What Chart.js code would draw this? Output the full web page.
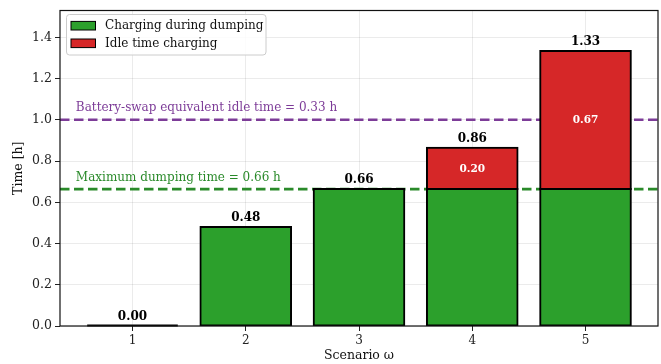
<!DOCTYPE html>
<html><head><meta charset="utf-8">
<script src="https://cdn.jsdelivr.net/npm/chart.js@4.4.0/dist/chart.umd.min.js"></script>
<style>html,body{margin:0;padding:0;background:#fff}#wrap{width:661px;height:364px;position:relative}</style>
</head><body><div id="wrap"><canvas id="c" width="661" height="364"></canvas></div>
<script>
const scenarios = [1, 2, 3, 4, 5];
const chargingDuringDumping = [0, 0.48, 0.664, 0.664, 0.664];
const idleTimeCharging = [0, 0, 0, 0.20, 0.67];
const yTicks = [0, 0.2, 0.4, 0.6, 0.8, 1.0, 1.2, 1.4];
const maxDumpingTime = 0.664;
const swapIdleLine = 1.0;
const seriesLabels = ['Charging during dumping', 'Idle time charging'];
const lineLabels = ['Maximum dumping time = 0.66 h', 'Battery-swap equivalent idle time = 0.33 h'];
const axisTitles = ['Scenario ω', 'Time [h]'];

const GREEN = '#2ca02c', RED = '#d62728';
const LINE_GREEN = '#2a8a2a', LINE_PURPLE = '#7d3c98';
const FONT = '"DejaVu Serif", serif';

const totals = scenarios.map((s, i) => chargingDuringDumping[i] + idleTimeCharging[i]);

const refLines = [
  {value: maxDumpingTime, color: LINE_GREEN, label: lineLabels[0]},
  {value: swapIdleLine, color: LINE_PURPLE, label: lineLabels[1]}
];

const drawPlugin = {
  id: 'drawPlugin',
  beforeDatasetsDraw(chart) {
    const {ctx, chartArea: a, scales: {y}} = chart;
    ctx.save();
    ctx.beginPath(); ctx.rect(a.left, a.top, a.right - a.left, a.bottom - a.top); ctx.clip();
    refLines.forEach(l => {
      const py = y.getPixelForValue(l.value);
      ctx.strokeStyle = l.color; ctx.lineWidth = 2.6; ctx.setLineDash([9.5, 4.5]);
      ctx.beginPath(); ctx.moveTo(a.left, py); ctx.lineTo(a.right, py); ctx.stroke();
    });
    ctx.restore();
  },
  afterDatasetsDraw(chart) {
    const {ctx, chartArea: a, scales: {x, y}} = chart;
    ctx.save();
    // zero-height bar outline
    scenarios.forEach((s, i) => {
      if (totals[i] === 0) {
        const half = (x.getPixelForValue(s + 0.4) - x.getPixelForValue(s - 0.4)) / 2;
        const px = x.getPixelForValue(s), py = y.getPixelForValue(0);
        ctx.strokeStyle = '#000'; ctx.lineWidth = 2;
        ctx.beginPath(); ctx.moveTo(px - half, py - 0.5); ctx.lineTo(px + half, py - 0.5); ctx.stroke();
      }
    });
    // reference line labels
    refLines.forEach(l => {
      const py = y.getPixelForValue(l.value);
      ctx.fillStyle = l.color; ctx.font = '12px ' + FONT;
      ctx.textAlign = 'left'; ctx.textBaseline = 'alphabetic';
      ctx.fillText(l.label, x.getPixelForValue(0.5), py - 8.5);
    });
    // totals above bars
    scenarios.forEach((s, i) => {
      const px = x.getPixelForValue(s);
      const py = y.getPixelForValue(totals[i]);
      ctx.fillStyle = '#000'; ctx.font = 'bold 12px ' + FONT;
      ctx.textAlign = 'center'; ctx.textBaseline = 'alphabetic';
      ctx.fillText(totals[i].toFixed(2), px, py - 6);
      if (idleTimeCharging[i] > 0) {
        const mid = y.getPixelForValue(chargingDuringDumping[i] + idleTimeCharging[i] / 2);
        ctx.fillStyle = '#fff'; ctx.font = 'bold 10.5px ' + FONT;
        ctx.textBaseline = 'middle';
        ctx.fillText(idleTimeCharging[i].toFixed(2), px, mid + 0.5);
      }
    });
    // frame
    ctx.strokeStyle = '#111'; ctx.lineWidth = 1.2; ctx.setLineDash([]);
    ctx.strokeRect(a.left, a.top, a.right - a.left, a.bottom - a.top);
    // axis titles
    ctx.fillStyle = '#111'; ctx.font = '12.5px ' + FONT;
    ctx.textAlign = 'center'; ctx.textBaseline = 'middle';
    ctx.fillText(axisTitles[0], (a.left + a.right) / 2, 356);
    ctx.save();
    ctx.translate(19, (a.top + a.bottom) / 2); ctx.rotate(-Math.PI / 2);
    ctx.fillText(axisTitles[1], 0, 0);
    ctx.restore();
    // legend
    const lx = 66.5, ly = 14.5, lw = 199.5, lh = 40.5, r = 3;
    ctx.beginPath();
    ctx.moveTo(lx + r, ly); ctx.lineTo(lx + lw - r, ly); ctx.arcTo(lx + lw, ly, lx + lw, ly + r, r);
    ctx.lineTo(lx + lw, ly + lh - r); ctx.arcTo(lx + lw, ly + lh, lx + lw - r, ly + lh, r);
    ctx.lineTo(lx + r, ly + lh); ctx.arcTo(lx, ly + lh, lx, ly + lh - r, r);
    ctx.lineTo(lx, ly + r); ctx.arcTo(lx, ly, lx + r, ly, r); ctx.closePath();
    ctx.fillStyle = 'rgba(255,255,255,0.85)'; ctx.fill();
    ctx.strokeStyle = '#cccccc'; ctx.lineWidth = 1; ctx.stroke();
    [[GREEN, seriesLabels[0], 25.7], [RED, seriesLabels[1], 43.3]].forEach(([c, t, cy]) => {
      ctx.fillStyle = c; ctx.fillRect(71, cy - 4.3, 24.5, 8.6);
      ctx.strokeStyle = '#000'; ctx.lineWidth = 1; ctx.strokeRect(71, cy - 4.3, 24.5, 8.6);
      ctx.fillStyle = '#111'; ctx.font = '12px ' + FONT; ctx.textAlign = 'left'; ctx.textBaseline = 'middle';
      ctx.fillText(t, 105, cy + 0.5);
    });
    ctx.restore();
  }
};

const gridOpts = {
  color: 'rgba(0,0,0,0.1)', lineWidth: 0.8, borderDash: [5, 3], offset: false,
  drawTicks: true, tickLength: 5, tickColor: '#222', tickWidth: 1, tickBorderDash: []
};

new Chart(document.getElementById('c'), {
  type: 'bar',
  data: {
    datasets: [
      {label: seriesLabels[0], data: scenarios.map((s, i) => ({x: s, y: chargingDuringDumping[i]})),
       backgroundColor: GREEN, borderColor: '#000', borderWidth: 2, borderSkipped: false, inflateAmount: 1,
       barPercentage: 0.8, categoryPercentage: 1.0},
      {label: seriesLabels[1], data: scenarios.map((s, i) => ({x: s, y: idleTimeCharging[i] > 0 ? idleTimeCharging[i] : null})),
       backgroundColor: RED, borderColor: '#000', borderWidth: 2, borderSkipped: false, inflateAmount: 1,
       barPercentage: 0.8, categoryPercentage: 1.0}
    ]
  },
  options: {
    responsive: false, animation: false, devicePixelRatio: 1,
    layout: {padding: {left: 0, right: 3, top: 10, bottom: 0}},
    plugins: {legend: {display: false}, tooltip: {enabled: false}},
    scales: {
      x: {
        type: 'linear', stacked: true, min: 0.36, max: 5.64, offset: false,
        grid: gridOpts, border: {display: false},
        ticks: {font: {family: FONT, size: 12}, color: '#222', padding: 3},
        afterBuildTicks: s => { s.ticks = scenarios.map(v => ({value: v})); },
        afterFit: s => { s.height = 38; }
      },
      y: {
        stacked: true, min: 0, max: 1.53,
        grid: gridOpts, border: {display: false},
        ticks: {font: {family: FONT, size: 12.5}, color: '#222', padding: 3,
                callback: v => Number(v).toFixed(1)},
        afterBuildTicks: s => { s.ticks = yTicks.map(v => ({value: v})); },
        afterFit: s => { s.width = 60; }
      }
    }
  },
  plugins: [drawPlugin]
});
</script>
</body></html>
